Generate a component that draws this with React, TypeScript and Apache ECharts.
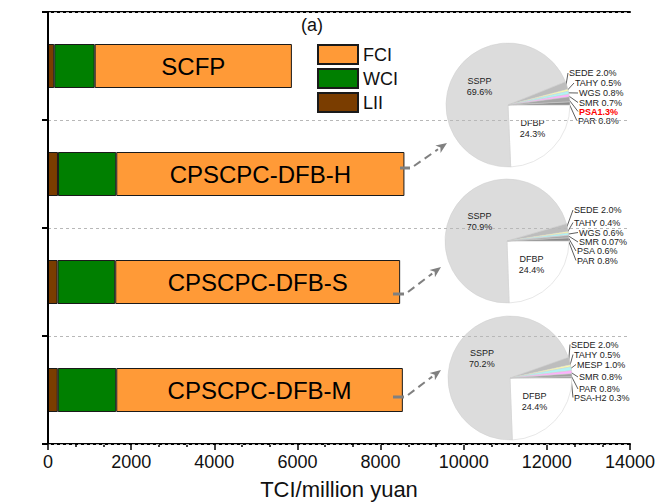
import React, { useEffect, useRef } from "react";
import * as echarts from "echarts";

// ---------- data ----------
const categories = ["SCFP", "CPSCPC-DFB-H", "CPSCPC-DFB-S", "CPSCPC-DFB-M"];
const liiValues = [151, 240, 230, 235];
const wciValues = [972, 1402, 1388, 1407];
const fciValues = [4744, 6932, 6853, 6894];
const legendNames = ["FCI", "WCI", "LII"];

const pie1Names = ["DFBP", "SSPP", "SEDE", "TAHY", "WGS", "SMR", "PSA", "PAR"];
const pie1Values = [24.3, 69.6, 2.0, 0.5, 0.8, 0.7, 1.3, 0.8];
const pie2Names = ["DFBP", "SSPP", "SEDE", "TAHY", "WGS", "SMR", "PSA", "PAR"];
const pie2Values = [24.4, 70.9, 2.0, 0.4, 0.6, 0.07, 0.6, 0.8];
const pie3Names = ["DFBP", "SSPP", "SEDE", "TAHY", "MESP", "SMR", "PAR", "PSA-H2"];
const pie3Values = [24.4, 70.2, 2.0, 0.5, 1.0, 0.8, 0.8, 0.3];

// ---------- styles / layout ----------
const FONT = "Liberation Sans, Arial, Helvetica, sans-serif";
const COLORS = { FCI: "#ff9a37", WCI: "#007f00", LII: "#7a3d00" };
const sliceColors1 = ["#ffffff", "#dcdcdc", "#bdbdbd", "#ffffa8", "#b0f4f4", "#ffb0ff", "#a6a6a6", "#8c8c8c"];
const sliceColors3 = ["#ffffff", "#dcdcdc", "#bdbdbd", "#ffffa8", "#b0f4f4", "#ffb0ff", "#a0a0a0", "#8c8c8c"];
const PIE_R = 62;
const pieLayouts = [
  {
    center: [508, 105],
    names: pie1Names, values: pie1Values, colors: sliceColors1,
    labelPos: [[569, 73], [575, 83], [579, 93], [579, 102.5], [579, 111.5], [578, 121]],
    redName: "PSA",
  },
  {
    center: [507, 241],
    names: pie2Names, values: pie2Values, colors: sliceColors1,
    labelPos: [[574, 210], [574, 222.5], [579, 232.5], [579, 242], [577, 251], [577, 260.5]],
    redName: "",
  },
  {
    center: [510, 378],
    names: pie3Names, values: pie3Values, colors: sliceColors3,
    labelPos: [[571, 344.5], [574, 354.5], [577, 364.5], [579, 377], [579, 389], [574, 397.5]],
    redName: "",
  },
];
const arrows = [
  { mark: [400, 410, 168], from: [414, 166], to: [447, 143] },
  { mark: [393, 404, 294], from: [408, 292], to: [441, 267] },
  { mark: [393, 404, 397], from: [408, 395], to: [441, 370] },
];

function fmtPct(v: number) {
  return v < 0.1 ? v.toFixed(2) : v.toFixed(1);
}

function buildPie(p: typeof pieLayouts[number]) {
  const total = p.values.reduce((a, b) => a + b, 0);
  const mids: number[] = [];
  let acc = 0;
  p.values.forEach((v) => {
    const start = -(acc / total) * 360;
    const mid = start - (v / total) * 180;
    mids.push(mid);
    acc += v;
  });
  return {
    type: "pie",
    center: p.center,
    radius: PIE_R,
    startAngle: 0,
    clockwise: true,
    avoidLabelOverlap: false,
    z: 2,
    itemStyle: { borderColor: "#cfcfcf", borderWidth: 0.5 },
    label: {
      show: true,
      fontFamily: FONT,
      fontSize: 9,
      color: "#222",
      lineHeight: 11,
      formatter: (q: any) => {
        if (q.dataIndex < 2) return `${q.name}\n${fmtPct(q.value)}%`;
        if (q.name === p.redName) return `${q.name}${fmtPct(q.value)}%`;
        return `${q.name} ${fmtPct(q.value)}%`;
      },
    },
    labelLine: { show: true, length: 4, length2: 4, lineStyle: { color: "#333", width: 0.8 } },
    labelLayout: (params: any) => {
      const i = params.dataIndex;
      if (i < 2) return {};
      const pos = p.labelPos[i - 2];
      const a = (mids[i] * Math.PI) / 180;
      const sx = p.center[0] + (PIE_R - 1) * Math.cos(a);
      const sy = p.center[1] - (PIE_R - 1) * Math.sin(a);
      return {
        x: pos[0],
        y: pos[1],
        align: "left",
        verticalAlign: "middle",
        labelLinePoints: [[sx, sy], [pos[0] - 1, pos[1]], [pos[0] - 1, pos[1]]],
      };
    },
    data: p.names.map((n, i) => ({
      name: n,
      value: p.values[i],
      itemStyle: { color: p.colors[i] },
      label:
        i < 2
          ? { position: "inside" }
          : n === p.redName
          ? { position: "outside", color: "#ff0000", fontWeight: "bold" }
          : { position: "outside" },
      labelLine: { show: i >= 2 },
    })),
  };
}

function buildArrowGraphics() {
  const els: any[] = [];
  arrows.forEach((a) => {
    els.push({
      type: "line",
      shape: { x1: a.mark[0], y1: a.mark[2], x2: a.mark[1], y2: a.mark[2] },
      style: { stroke: "#808080", lineWidth: 3 },
      z: 10,
    });
    const dx = a.to[0] - a.from[0];
    const dy = a.to[1] - a.from[1];
    const len = Math.sqrt(dx * dx + dy * dy);
    const ux = dx / len;
    const uy = dy / len;
    const headLen = 11;
    const hw = 4.5;
    const bx = a.to[0] - ux * headLen;
    const by = a.to[1] - uy * headLen;
    els.push({
      type: "line",
      shape: { x1: a.from[0], y1: a.from[1], x2: bx, y2: by },
      style: { stroke: "#808080", lineWidth: 2, lineDash: [8, 5] },
      z: 10,
    });
    els.push({
      type: "polygon",
      shape: {
        points: [
          [a.to[0], a.to[1]],
          [bx - uy * hw, by + ux * hw],
          [a.to[0] - ux * (headLen - 3), a.to[1] - uy * (headLen - 3)],
          [bx + uy * hw, by - ux * hw],
        ],
      },
      style: { fill: "#808080" },
      z: 10,
    });
  });
  return els;
}

export default function App() {
  const ref = useRef<HTMLDivElement>(null);
  useEffect(() => {
    document.body.style.margin = "0";
    if (!ref.current) return;
    const chart = echarts.init(ref.current, null, { renderer: "svg" });
    const barBase = {
      type: "bar",
      stack: "total",
      barWidth: 44,
      z: 2,
    };
    chart.setOption({
      animation: false,
      backgroundColor: "#ffffff",
      textStyle: { fontFamily: FONT },
      title: {
        text: "(a)",
        left: 301,
        top: 16,
        padding: 0,
        textStyle: { fontFamily: FONT, fontSize: 18, fontWeight: "normal", color: "#111" },
      },
      legend: {
        data: legendNames,
        orient: "vertical",
        left: 317,
        top: 44,
        padding: 0,
        itemWidth: 40,
        itemHeight: 19,
        itemGap: 3,
        icon: "rect",
        selectedMode: false,
        textStyle: { fontFamily: FONT, fontSize: 18, color: "#111", padding: [0, 0, 0, 0] },
      },
      grid: {
        left: 48,
        right: 31,
        top: 12,
        bottom: 58,
        containLabel: false,
        outerBoundsMode: "none",
      },
      xAxis: [
        {
          type: "value",
          min: 0,
          max: 14000,
          interval: 2000,
          name: "TCI/million yuan",
          nameLocation: "middle",
          nameGap: 34,
          nameTextStyle: { fontFamily: FONT, fontSize: 22, color: "#111" },
          axisLine: { show: true, lineStyle: { color: "#000", width: 2 } },
          axisTick: { show: true, inside: false, length: 6, lineStyle: { color: "#000", width: 1.5 } },
          minorTick: { show: true, splitNumber: 3, length: 3, lineStyle: { color: "#000", width: 1.5 } },
          splitLine: { show: false },
          axisLabel: {
            fontFamily: FONT,
            fontSize: 18,
            color: "#111",
            margin: 9,
            formatter: (v: number) => String(v),
          },
        },
        {
          type: "value",
          position: "top",
          min: 0,
          max: 14000,
          axisLine: { show: true, lineStyle: { color: "#000", width: 2 } },
          axisTick: { show: false },
          axisLabel: { show: false },
          splitLine: { show: false },
        },
      ],
      yAxis: [
        {
          type: "category",
          data: categories,
          inverse: true,
          z: 5,
          axisLine: { show: true, lineStyle: { color: "#000", width: 2 } },
          axisTick: { show: true, length: 6, lineStyle: { color: "#000", width: 2 } },
          axisLabel: { show: false },
          splitLine: { show: true, lineStyle: { color: "#b8b8b8", type: [3, 3], width: 1 } },
        },
        {
          type: "category",
          data: categories,
          inverse: true,
          position: "right",
          axisLine: { show: true, lineStyle: { color: "#000", width: 2 } },
          axisTick: { show: false },
          axisLabel: { show: false },
          splitLine: { show: false },
        },
      ],
      series: [
        {
          ...barBase,
          name: "LII",
          data: liiValues,
          itemStyle: { color: COLORS.LII, borderColor: "#1a1a1a", borderWidth: 1 },
        },
        {
          ...barBase,
          name: "WCI",
          data: wciValues,
          itemStyle: { color: COLORS.WCI, borderColor: "#1a1a1a", borderWidth: 1 },
        },
        {
          ...barBase,
          name: "FCI",
          data: fciValues,
          itemStyle: { color: COLORS.FCI, borderColor: "#1a1a1a", borderWidth: 1 },
          label: {
            show: true,
            position: "inside",
            formatter: "{b}",
            fontFamily: FONT,
            fontSize: 24,
            color: "#000",
          },
        },
        ...pieLayouts.map((p) => buildPie(p)),
      ],
      graphic: buildArrowGraphics(),
    });
    return () => chart.dispose();
  }, []);
  return <div ref={ref} style={{ width: 661, height: 502 }} />;
}
